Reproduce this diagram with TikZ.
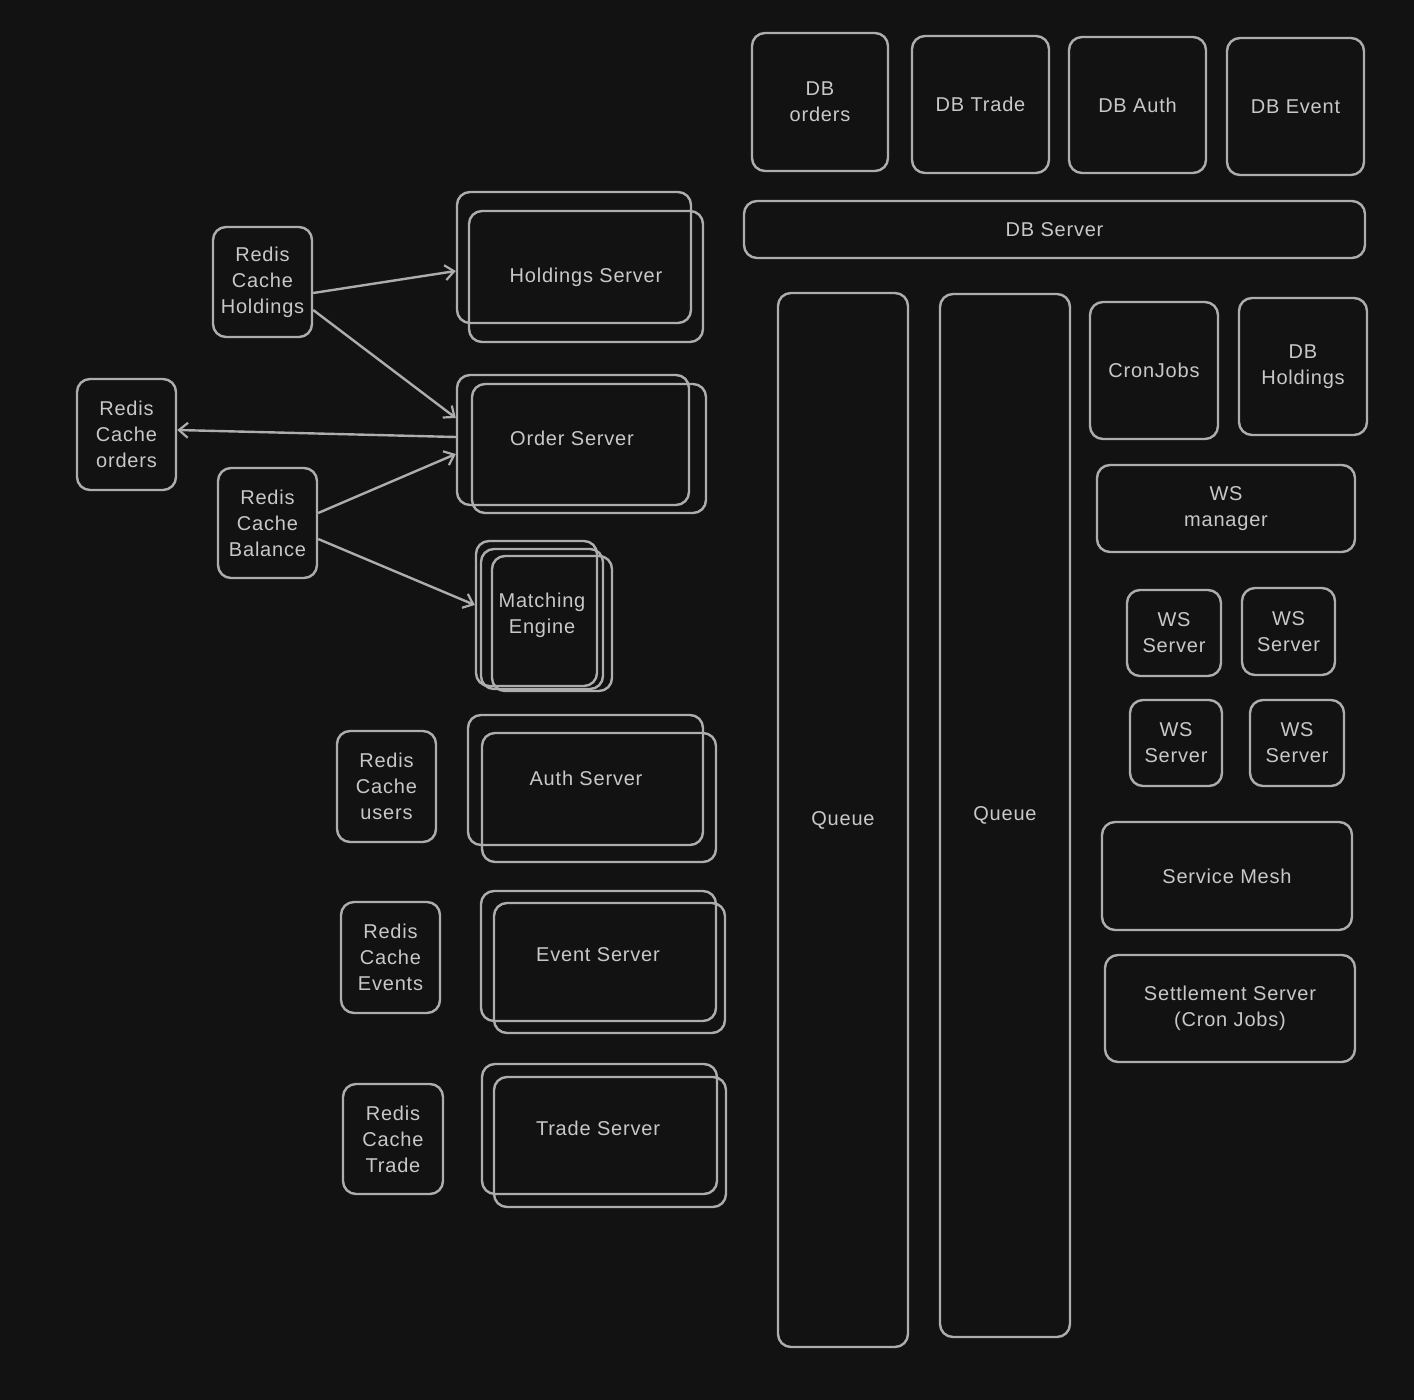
\documentclass[tikz,border=0pt]{standalone}
\usepackage{fontspec}
\setmainfont[LetterSpace=4]{Liberation Sans}
\usetikzlibrary{arrows.meta}
\definecolor{bgc}{HTML}{121212}
\definecolor{strk}{HTML}{ADADAD}
\definecolor{txtc}{HTML}{C8C8C8}
\tikzset{
  box/.style={draw=strk, line width=2.4pt, rounded corners=13pt, inner sep=0pt,
    text=txtc, align=center, font=\fontsize{20}{26}\selectfont},
  lbl/.style={text=txtc, align=center, font=\fontsize{20}{26}\selectfont},
  conn/.style={draw=strk, line width=2.4pt, -{Straight Barb[length=9pt,width=15pt,line width=2.2pt]}},
}
\begin{document}
\begin{tikzpicture}[x=1pt,y=-1pt]
\fill[bgc] (0,0) rectangle (1414,1400);
\useasboundingbox (0,0) rectangle (1414,1400);
% DB row
\node[box, minimum width=136pt, minimum height=138pt] (dbo) at (820,102) {DB\\orders};
\node[box, minimum width=137pt, minimum height=137pt] (dbt) at (980.5,104.5) {DB Trade};
\node[box, minimum width=137pt, minimum height=136pt] (dba) at (1137.5,105) {DB Auth};
\node[box, minimum width=137pt, minimum height=137pt] (dbe) at (1295.5,106.5) {DB Event};
\node[box, minimum width=621pt, minimum height=57pt] (dbs) at (1054.5,229.5) {DB Server};
% Queues
\node[box, minimum width=130pt, minimum height=1054pt] (q1) at (843,820) {Queue};
\node[box, minimum width=130pt, minimum height=1043pt] (q2) at (1005,815.5) {Queue};
% right column
\node[box, minimum width=128pt, minimum height=137pt] (cron) at (1154,370.5) {CronJobs};
\node[box, minimum width=128pt, minimum height=137pt] (dbh) at (1303,366.5) {DB\\Holdings};
\node[box, minimum width=258pt, minimum height=87pt] (wsm) at (1226,508.5) {WS\\manager};
\node[box, minimum width=94pt, minimum height=86pt] (ws1) at (1174,633) {WS\\Server};
\node[box, minimum width=93pt, minimum height=87pt] (ws2) at (1288.5,631.5) {WS\\Server};
\node[box, minimum width=92pt, minimum height=86pt] (ws3) at (1176,743) {WS\\Server};
\node[box, minimum width=94pt, minimum height=86pt] (ws4) at (1297,743) {WS\\Server};
\node[box, minimum width=250pt, minimum height=108pt] (mesh) at (1227,876) {Service Mesh};
\node[box, minimum width=250pt, minimum height=107pt] (settle) at (1230,1008.5) {Settlement Server\\(Cron Jobs)};
% Redis caches
\node[box, minimum width=99pt, minimum height=110pt] (rh) at (262.5,282) {Redis\\Cache\\Holdings};
\node[box, minimum width=99pt, minimum height=111pt] (ro) at (126.5,434.5) {Redis\\Cache\\orders};
\node[box, minimum width=99pt, minimum height=110pt] (rb) at (267.5,523) {Redis\\Cache\\Balance};
\node[box, minimum width=99pt, minimum height=111pt] (ru) at (386.5,786.5) {Redis\\Cache\\users};
\node[box, minimum width=99pt, minimum height=111pt] (rev) at (390.5,957.5) {Redis\\Cache\\Events};
\node[box, minimum width=100pt, minimum height=110pt] (rt) at (393,1139) {Redis\\Cache\\Trade};
% Holdings server (stacked)
\node[box, minimum width=234pt, minimum height=131pt] (hsb) at (574,257.5) {};
\node[box, minimum width=234pt, minimum height=131pt] (hsf) at (586,276.5) {};
\node[lbl] (hst) at (586,277) {Holdings Server};
% Order server
\node[box, minimum width=232pt, minimum height=130pt] (os1) at (573,440) {};
\node[box, minimum width=234pt, minimum height=129pt] (os2) at (589,448.5) {};
\node[lbl] (ost) at (572,438) {Order Server};
% Matching engine
\node[box, minimum width=121pt, minimum height=145pt] (me1) at (536.5,613.5) {};
\node[box, minimum width=122pt, minimum height=140pt] (me2) at (542,619) {};
\node[box, minimum width=120pt, minimum height=135pt] (me3) at (552,623.5) {};
\node[lbl] (met) at (542,615) {Matching\\Engine};
% Auth server
\node[box, minimum width=235pt, minimum height=130pt] (as1) at (585.5,780) {};
\node[box, minimum width=234pt, minimum height=129pt] (as2) at (599,797.5) {};
\node[lbl] (ast) at (586,778) {Auth Server};
% Event server
\node[box, minimum width=235pt, minimum height=130pt] (es1) at (598.5,956) {};
\node[box, minimum width=231pt, minimum height=130pt] (es2) at (609.5,968) {};
\node[lbl] (est) at (598,955) {Event Server};
% Trade server
\node[box, minimum width=235pt, minimum height=130pt] (ts1) at (599.5,1129) {};
\node[box, minimum width=232pt, minimum height=130pt] (ts2) at (610,1142) {};
\node[lbl] (tst) at (598,1128) {Trade Server};
% connectors
\draw[conn] ([yshift=-11pt]rh.east) -- ([yshift=-13.5pt]hsb.west);
\draw[conn] ([yshift=-28pt]rh.east) -- ([yshift=22pt]os1.west);
\draw[conn] ([yshift=3pt]os1.west) -- ([yshift=4.5pt]ro.east);
\draw[conn] ([yshift=10pt]rb.east) -- ([yshift=-14pt]os1.west);
\draw[conn] ([yshift=-16pt]rb.east) -- ([yshift=8.5pt]me1.west);
\end{tikzpicture}
\end{document}
